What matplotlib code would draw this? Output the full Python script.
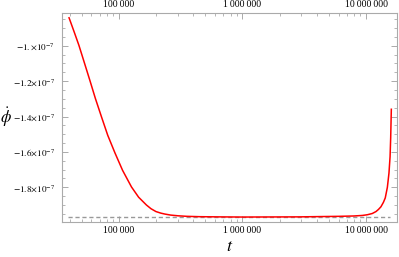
import matplotlib
matplotlib.use("Agg")
import matplotlib.pyplot as plt
import matplotlib.ticker as mticker
import numpy as np

plt.rcParams['font.family'] = ['Liberation Serif', 'DejaVu Serif']
plt.rcParams['mathtext.fontset'] = 'stix'

# curve (t, phi-dot in units of 1e-7)
t = [39540, 43650, 47530, 52480, 58340, 64570, 72440, 81280, 92900, 107150,
     126500, 144500, 167100, 181970, 199500, 218800, 235000, 263000, 302000,
     354800, 449800, 631000, 1000000, 2884000, 6026000, 7943000, 9333000,
     10233000, 11220000, 12023000, 12590000, 13183000, 13804000, 14289000,
     14860000, 15310000, 15630000, 15810000, 16000000]
phidot = [-0.842, -0.925, -0.998, -1.094, -1.197, -1.298, -1.403, -1.506, -1.605, -1.704,
          -1.798, -1.856, -1.900, -1.921, -1.937, -1.946, -1.951, -1.957, -1.961,
          -1.964, -1.966, -1.967, -1.968, -1.967, -1.964, -1.962, -1.959,
          -1.955, -1.948, -1.937, -1.925, -1.910, -1.885, -1.860,
          -1.800, -1.720, -1.627, -1.520, -1.359]
asymptote = -1.969
x_ticks = [1e5, 1e6, 1e7]
x_labels = ['100\u2009000', '1\u2009000\u2009000', '10\u2009000\u2009000']
y_ticks = [-1.0, -1.2, -1.4, -1.6, -1.8]
y_labels = [r'$-1.{\times}10^{-7}$', r'$-1.2{\times}10^{-7}$', r'$-1.4{\times}10^{-7}$',
            r'$-1.6{\times}10^{-7}$', r'$-1.8{\times}10^{-7}$']

t = np.array(t)
y = np.array(phidot) * 1e-7

fig = plt.figure(figsize=(3.99, 2.57), dpi=100)
ax = fig.add_axes([62/399, 1 - 222/257, 335/399, 209/257])

ax.plot([t[0] * 0.98, t[-1] * 0.975], [asymptote * 1e-7] * 2, color='#999999',
        lw=1.0, ls=(0, (3, 2)))
ax.plot(t, y, color='#ff0000', lw=1.1)

ax.set_xscale('log')
ax.set_xlim(10**4.54, 10**7.25)
ax.set_ylim(-1.996e-7, -0.815e-7)

ax.set_xticks(x_ticks)
ax.set_xticklabels(x_labels)
ax.set_yticks(np.array(y_ticks) * 1e-7)
ax.set_yticklabels(y_labels)
ax.yaxis.set_minor_locator(mticker.MultipleLocator(0.05e-7))
ax.xaxis.set_minor_locator(mticker.LogLocator(base=10, subs=np.arange(2, 10)))
ax.xaxis.set_minor_formatter(mticker.NullFormatter())

for s in ax.spines.values():
    s.set_color('#aaaaaa')
    s.set_linewidth(0.8)
ax.tick_params(which='both', direction='in', color='#aaaaaa', top=True, right=True,
               labeltop=True, labelsize=7, pad=3)
ax.tick_params(axis='y', which='major', labelsize=6.6, pad=5)
ax.tick_params(which='major', length=4, width=0.7)
ax.tick_params(which='minor', length=2, width=0.6)

ax.set_xlabel(r'$t$', fontsize=13, labelpad=2)
ax.set_ylabel(r'$\dot{\phi}$', fontsize=12, rotation=0, va='center', ha='center')
ax.yaxis.set_label_coords(-0.167, 0.5)

fig.savefig('out.png', dpi=100)
